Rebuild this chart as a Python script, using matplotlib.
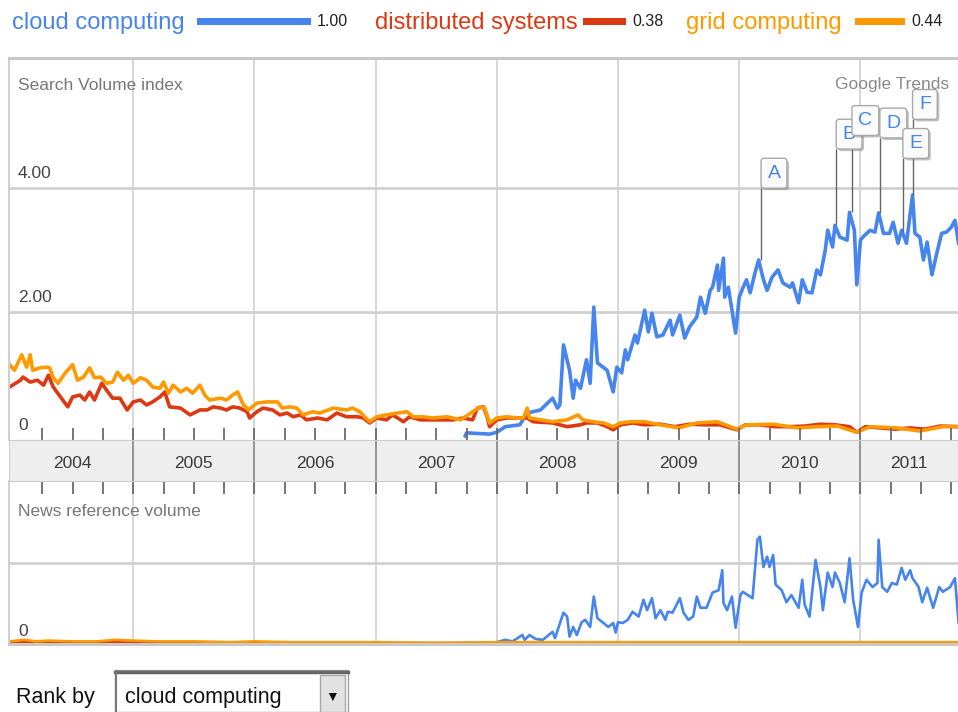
import matplotlib
matplotlib.use("Agg")
import matplotlib.pyplot as plt
import matplotlib.patheffects as pe
from matplotlib.patches import Rectangle
from matplotlib.transforms import offset_copy

plt.rcParams['font.family'] = ['Liberation Sans', 'DejaVu Sans']

W, H = 958, 712
BLUE, RED, ORANGE = '#4684ee', '#dc3912', '#ff9900'

# ---- data -------------------------------------------------------------
terms = ['cloud computing', 'distributed systems', 'grid computing']
term_avg = [1.00, 0.38, 0.44]
term_colors = [BLUE, RED, ORANGE]
years = list(range(2004, 2012))

# search volume index
cloud_t = [2007.74, 2007.75, 2007.94, 2008.00, 2008.07, 2008.19, 2008.25, 2008.36, 2008.46, 2008.50,
           2008.52, 2008.55, 2008.60, 2008.63, 2008.65, 2008.69, 2008.74, 2008.77, 2008.80, 2008.83,
           2008.91, 2008.96, 2008.99, 2009.03, 2009.06, 2009.08, 2009.14, 2009.16, 2009.22, 2009.25,
           2009.28, 2009.32, 2009.37, 2009.43, 2009.45, 2009.51, 2009.55, 2009.59, 2009.65, 2009.68,
           2009.72, 2009.76, 2009.78, 2009.82, 2009.83, 2009.87, 2009.88, 2009.91, 2009.94, 2009.97,
           2010.00, 2010.03, 2010.06, 2010.09, 2010.13, 2010.16, 2010.20, 2010.23, 2010.27, 2010.32,
           2010.36, 2010.42, 2010.44, 2010.49, 2010.52, 2010.56, 2010.60, 2010.64, 2010.67, 2010.71,
           2010.73, 2010.77, 2010.79, 2010.83, 2010.89, 2010.91, 2010.95, 2010.97, 2011.00, 2011.02,
           2011.08, 2011.12, 2011.15, 2011.19, 2011.24, 2011.27, 2011.31, 2011.34, 2011.38, 2011.43,
           2011.45, 2011.49, 2011.52, 2011.55, 2011.59, 2011.63, 2011.67, 2011.71, 2011.75, 2011.78,
           2011.81]
cloud_v = [0.00, 0.05, 0.03, 0.06, 0.15, 0.18, 0.37, 0.42, 0.61, 0.45,
           0.50, 1.47, 1.06, 0.61, 0.90, 0.77, 1.23, 0.85, 2.08, 1.18,
           1.06, 0.71, 1.11, 1.02, 1.39, 1.23, 1.63, 1.50, 2.03, 1.68,
           1.98, 1.60, 1.63, 1.87, 1.63, 1.95, 1.58, 1.76, 1.92, 2.24,
           1.98, 2.35, 2.40, 2.76, 2.35, 2.87, 2.24, 2.40, 2.03, 1.66,
           2.24, 2.39, 2.52, 2.31, 2.63, 2.84, 2.52, 2.35, 2.56, 2.68,
           2.47, 2.40, 2.47, 2.15, 2.52, 2.32, 2.31, 2.68, 2.60, 3.00,
           3.32, 3.05, 3.40, 3.21, 3.16, 3.61, 3.32, 2.44, 3.16, 3.21,
           3.32, 3.29, 3.60, 3.27, 3.27, 3.45, 3.11, 3.32, 3.11, 3.89,
           3.27, 3.21, 2.84, 3.13, 2.60, 2.95, 3.27, 3.29, 3.37, 3.48,
           3.11]

dist_t = [2003.98, 2004.07, 2004.09, 2004.15, 2004.21, 2004.26, 2004.30, 2004.34, 2004.40, 2004.46,
          2004.50, 2004.56, 2004.60, 2004.64, 2004.68, 2004.74, 2004.78, 2004.83, 2004.89, 2004.95,
          2005.00, 2005.06, 2005.11, 2005.16, 2005.22, 2005.26, 2005.30, 2005.39, 2005.47, 2005.55,
          2005.61, 2005.66, 2005.72, 2005.77, 2005.82, 2005.88, 2005.94, 2005.96, 2006.02, 2006.07,
          2006.15, 2006.21, 2006.27, 2006.32, 2006.38, 2006.43, 2006.52, 2006.60, 2006.68, 2006.76,
          2006.85, 2006.90, 2006.95, 2007.01, 2007.09, 2007.14, 2007.23, 2007.28, 2007.37, 2007.45,
          2007.56, 2007.64, 2007.72, 2007.80, 2007.84, 2007.89, 2007.92, 2007.94, 2008.00, 2008.08,
          2008.19, 2008.25, 2008.30, 2008.46, 2008.58, 2008.69, 2008.74, 2008.83, 2008.91, 2008.96,
          2009.02, 2009.12, 2009.22, 2009.35, 2009.47, 2009.59, 2009.72, 2009.84, 2009.98, 2010.05,
          2010.17, 2010.30, 2010.42, 2010.54, 2010.67, 2010.79, 2010.91, 2010.97, 2011.04, 2011.16,
          2011.29, 2011.41, 2011.53, 2011.66, 2011.81]
dist_v = [0.79, 0.90, 0.95, 0.87, 0.90, 0.82, 0.98, 0.79, 0.63, 0.47,
          0.63, 0.66, 0.58, 0.71, 0.58, 0.85, 0.74, 0.61, 0.61, 0.42,
          0.55, 0.58, 0.50, 0.55, 0.63, 0.71, 0.47, 0.45, 0.34, 0.42,
          0.42, 0.47, 0.45, 0.42, 0.47, 0.45, 0.39, 0.29, 0.39, 0.45,
          0.42, 0.34, 0.37, 0.31, 0.34, 0.26, 0.29, 0.26, 0.37, 0.31,
          0.31, 0.29, 0.21, 0.29, 0.26, 0.34, 0.23, 0.31, 0.26, 0.26,
          0.26, 0.26, 0.29, 0.26, 0.45, 0.47, 0.31, 0.15, 0.26, 0.29,
          0.29, 0.29, 0.23, 0.21, 0.15, 0.18, 0.21, 0.21, 0.15, 0.10,
          0.18, 0.21, 0.18, 0.19, 0.15, 0.19, 0.18, 0.18, 0.10, 0.18,
          0.18, 0.15, 0.15, 0.16, 0.19, 0.18, 0.15, 0.06, 0.15, 0.13,
          0.11, 0.13, 0.11, 0.16, 0.15]

grid_t = [2003.98, 2004.02, 2004.08, 2004.12, 2004.15, 2004.17, 2004.23, 2004.29, 2004.31, 2004.34,
          2004.38, 2004.44, 2004.50, 2004.54, 2004.59, 2004.64, 2004.68, 2004.73, 2004.78, 2004.83,
          2004.87, 2004.92, 2004.96, 2005.00, 2005.06, 2005.11, 2005.16, 2005.22, 2005.25, 2005.29,
          2005.33, 2005.39, 2005.44, 2005.49, 2005.55, 2005.59, 2005.63, 2005.72, 2005.77, 2005.82,
          2005.86, 2005.91, 2005.95, 2006.02, 2006.10, 2006.19, 2006.23, 2006.29, 2006.35, 2006.40,
          2006.48, 2006.54, 2006.65, 2006.76, 2006.81, 2006.87, 2006.95, 2007.01, 2007.09, 2007.18,
          2007.26, 2007.31, 2007.39, 2007.47, 2007.59, 2007.70, 2007.74, 2007.86, 2007.90, 2007.94,
          2008.00, 2008.08, 2008.17, 2008.22, 2008.25, 2008.27, 2008.36, 2008.46, 2008.58, 2008.67,
          2008.71, 2008.79, 2008.88, 2008.96, 2009.02, 2009.10, 2009.22, 2009.35, 2009.50, 2009.65,
          2009.82, 2009.98, 2010.06, 2010.28, 2010.48, 2010.64, 2010.81, 2010.97, 2011.08, 2011.30,
          2011.49, 2011.68, 2011.81]
grid_v = [1.15, 1.06, 1.31, 1.11, 1.31, 1.06, 1.10, 1.11, 1.10, 0.94,
          0.85, 1.02, 1.15, 0.90, 0.95, 1.10, 0.94, 0.95, 0.85, 0.87,
          1.03, 0.90, 0.98, 0.85, 0.94, 0.90, 0.79, 0.77, 0.87, 0.69,
          0.82, 0.71, 0.77, 0.69, 0.82, 0.66, 0.58, 0.61, 0.58, 0.66,
          0.71, 0.50, 0.42, 0.53, 0.55, 0.55, 0.45, 0.47, 0.45, 0.34,
          0.39, 0.37, 0.45, 0.42, 0.45, 0.39, 0.23, 0.31, 0.34, 0.37,
          0.39, 0.31, 0.31, 0.29, 0.31, 0.26, 0.31, 0.47, 0.45, 0.21,
          0.29, 0.31, 0.29, 0.29, 0.45, 0.29, 0.26, 0.23, 0.26, 0.34,
          0.26, 0.23, 0.21, 0.15, 0.21, 0.23, 0.23, 0.18, 0.13, 0.21,
          0.23, 0.11, 0.18, 0.19, 0.13, 0.15, 0.16, 0.06, 0.15, 0.13,
          0.08, 0.15, 0.15]

# news reference volume
news_cloud_t = [2007.74, 2007.92, 2008.00, 2008.07, 2008.13, 2008.21, 2008.23, 2008.27, 2008.32, 2008.38,
                2008.46, 2008.48, 2008.55, 2008.58, 2008.60, 2008.63, 2008.66, 2008.70, 2008.73, 2008.77,
                2008.80, 2008.83, 2008.88, 2008.92, 2008.96, 2008.98, 2009.00, 2009.04, 2009.08, 2009.12,
                2009.17, 2009.21, 2009.24, 2009.28, 2009.31, 2009.35, 2009.39, 2009.41, 2009.45, 2009.51,
                2009.54, 2009.58, 2009.62, 2009.65, 2009.68, 2009.73, 2009.78, 2009.83, 2009.86, 2009.87,
                2009.90, 2009.94, 2009.97, 2010.01, 2010.03, 2010.09, 2010.11, 2010.15, 2010.17, 2010.20,
                2010.23, 2010.25, 2010.28, 2010.30, 2010.35, 2010.39, 2010.43, 2010.49, 2010.52, 2010.54,
                2010.58, 2010.63, 2010.67, 2010.69, 2010.73, 2010.77, 2010.79, 2010.83, 2010.87, 2010.91,
                2010.94, 2010.98, 2011.01, 2011.05, 2011.10, 2011.14, 2011.15, 2011.18, 2011.22, 2011.26,
                2011.30, 2011.34, 2011.37, 2011.41, 2011.43, 2011.48, 2011.51, 2011.55, 2011.60, 2011.65,
                2011.68, 2011.74, 2011.78, 2011.81]
news_cloud_v = [0.00, 0.00, 0.01, 0.04, 0.02, 0.10, 0.04, 0.10, 0.05, 0.04,
                0.14, 0.06, 0.38, 0.33, 0.08, 0.20, 0.10, 0.26, 0.29, 0.20,
                0.58, 0.31, 0.25, 0.20, 0.25, 0.13, 0.26, 0.25, 0.29, 0.39,
                0.33, 0.54, 0.41, 0.56, 0.31, 0.41, 0.29, 0.39, 0.38, 0.56,
                0.38, 0.29, 0.33, 0.58, 0.44, 0.44, 0.63, 0.66, 0.91, 0.50,
                0.41, 0.58, 0.19, 0.60, 0.64, 0.58, 0.56, 1.29, 1.33, 0.95,
                1.08, 0.95, 1.10, 0.73, 0.66, 0.51, 0.60, 0.44, 0.79, 0.48,
                0.33, 1.04, 0.70, 0.41, 0.88, 0.70, 0.88, 0.75, 0.51, 1.06,
                0.54, 0.20, 0.63, 0.79, 0.70, 0.75, 1.29, 0.70, 0.64, 0.75,
                0.73, 0.94, 0.79, 0.91, 0.81, 0.70, 0.51, 0.69, 0.44, 0.70,
                0.64, 0.70, 0.81, 0.25]

news_grid_t = [2003.98, 2004.10, 2004.20, 2004.30, 2004.50, 2004.70, 2004.85, 2005.00, 2005.20, 2005.50,
               2005.80, 2006.00, 2006.30, 2006.60, 2007.00, 2007.50, 2008.00, 2008.50, 2009.00, 2009.50,
               2010.00, 2010.50, 2011.00, 2011.50, 2011.81]
news_grid_v = [0.02, 0.04, 0.02, 0.03, 0.02, 0.02, 0.04, 0.03, 0.02, 0.02,
               0.01, 0.02, 0.01, 0.01, 0.01, 0.00, 0.01, 0.01, 0.01, 0.01,
               0.01, 0.01, 0.01, 0.01, 0.01]
news_dist_t = [2003.98, 2005.00, 2006.00, 2007.00, 2008.00, 2009.00, 2010.00, 2011.00, 2011.81]
news_dist_v = [0.01, 0.01, 0.00, 0.00, 0.00, 0.00, 0.00, 0.00, 0.00]

# news event markers on the search graph
ann_letters = ['A', 'B', 'C', 'D', 'E', 'F']
ann_t = [2010.18, 2010.80, 2010.93, 2011.16, 2011.35, 2011.43]
ann_v = [2.84, 3.40, 3.61, 3.60, 3.29, 3.89]
ann_box = [4.00, 4.63, 4.85, 4.81, 4.48, 5.11]   # where each flag sits

# ---- figure -----------------------------------------------------------
fig = plt.figure(figsize=(W / 100, H / 100), dpi=100)
fig.patch.set_facecolor('white')


def px_axes(x0, y0, x1, y1):
    return fig.add_axes([x0 / W, 1 - y1 / H, (x1 - x0) / W, (y1 - y0) / H])


def ftext(x, y, s, **kw):
    return fig.text(x / W, 1 - y / H, s, **kw)


XLIM = (2003.975, 2011.805)


def style_panel(ax, ylim, hlines):
    ax.set_xlim(XLIM)
    ax.set_ylim(ylim)
    ax.set_xticks([])
    ax.set_yticks([])
    for yr in years[1:]:
        ax.axvline(yr, color='#d4d4d4', lw=1.3, zorder=0)
    for y in hlines:
        ax.axhline(y, color='#d0d0d0', lw=2, zorder=0)
    ax.spines['right'].set_visible(False)
    ax.spines['left'].set_color('#d0d0d0')
    ax.spines['left'].set_linewidth(1.5)


ax_top = px_axes(9, 58, 958, 440)
style_panel(ax_top, (-0.065, 6.1), [2, 4])
ax_top.spines['top'].set_color('#c8c8c8')
ax_top.spines['top'].set_linewidth(2.2)
ax_top.spines['bottom'].set_color('#cccccc')

for t, v, c in [(cloud_t, cloud_v, BLUE), (dist_t, dist_v, RED), (grid_t, grid_v, ORANGE)]:
    ax_top.plot(t, v, color=c, lw=2.6, solid_joinstyle='round', zorder=2)

ax_top.text(835 / W, 1 - 85 / H, 'Google Trends', transform=fig.transFigure,
            fontsize=12.5, color='#8a8a8a', va='center', ha='left', zorder=1)

pad = 0.33
fs_flag = 14
flag_tr = offset_copy(ax_top.transData, fig=fig, x=pad * fs_flag, y=pad * fs_flag, units='points')
for i, (lt, t, v, vb) in enumerate(zip(ann_letters, ann_t, ann_v, ann_box)):
    ax_top.plot([t, t], [v, vb], color='#666666', lw=1, zorder=4, solid_capstyle='butt')
    txt = ax_top.text(t, vb, lt, transform=flag_tr, ha='left', va='bottom',
                      fontsize=fs_flag, color=BLUE, zorder=5 + i,
                      bbox=dict(boxstyle=f'round,pad={pad},rounding_size=0.15',
                                fc='#fbfbfb', ec='#a8a8a8', lw=1))
    txt.get_bbox_patch().set_path_effects([
        pe.SimplePatchShadow(offset=(1.5, -1.5), shadow_rgbFace='#777777', alpha=0.45),
        pe.Normal()])

ax_bot = px_axes(9, 481, 958, 644)
style_panel(ax_bot, (-0.0125, 2.025), [1])
ax_bot.spines['top'].set_visible(False)
ax_bot.spines['bottom'].set_color('#c8c8c8')
ax_bot.spines['bottom'].set_linewidth(2.2)
for t, v, c in [(news_cloud_t, news_cloud_v, BLUE), (news_dist_t, news_dist_v, RED),
                (news_grid_t, news_grid_v, ORANGE)]:
    ax_bot.plot(t, v, color=c, lw=1.9, solid_joinstyle='round', zorder=2)

# year band between the two panels
ax_band = px_axes(9, 440, 958, 481)
ax_band.set_facecolor('#eeeeee')
ax_band.set_xlim(XLIM)
ax_band.set_ylim(0, 1)
ax_band.set_yticks([])
ax_band.set_xticks(years[1:])
ax_band.set_xticks([yr + q for yr in years for q in (0.25, 0.5, 0.75)], minor=True)
ax_band.tick_params(axis='x', which='both', direction='out', top=True, bottom=True,
                    length=9, width=1.3, color='#6a6a6a', labelbottom=False)
for yr in years[1:]:
    ax_band.axvline(yr, color='#8c8c8c', lw=1.3)
for yr in years:
    mid = (yr + min(yr + 1, XLIM[1])) / 2
    ax_band.text(mid, 0.42, str(yr), ha='center', va='center', fontsize=12.5, color='#3a3a3a')
for s in ['top', 'bottom']:
    ax_band.spines[s].set_color('#cccccc')
ax_band.spines['left'].set_color('#d0d0d0')
ax_band.spines['right'].set_visible(False)

# axis texts
ftext(18, 85, 'Search Volume index', fontsize=12.5, color='#777777', va='center')
for y, s in [(173, '4.00'), (297, '2.00'), (425, '0')]:
    ftext(18, y, s, fontsize=12.5, color='#444444', va='center')
ftext(18, 512, 'News reference volume', fontsize=12.5, color='#777777', va='center')
ftext(18, 632, '0', fontsize=12.5, color='#444444', va='center')

# legend row
text_x = [12, 375, 686]
bar_x = [197, 583, 855]
for name, avg, c, tx, bx in zip(terms, term_avg, term_colors, text_x, bar_x):
    ftext(tx, 23, name, fontsize=17, color=c, va='center')
    blen = avg * 114
    fig.add_artist(Rectangle((bx / W, 1 - 25 / H), blen / W, 7 / H,
                             transform=fig.transFigure, fc=c, ec='none'))
    ftext(bx + blen + 6, 21, f'{avg:.2f}', fontsize=11.5, color='#222222', va='center')

# "Rank by" dropdown
ftext(16, 697, 'Rank by', fontsize=15.5, color='#111111', va='center')
fig.add_artist(Rectangle((115 / W, 0), (348 - 115) / W, 1 - 670 / H, transform=fig.transFigure,
                         fc='white', ec='#a0a0a0', lw=1))
fig.add_artist(plt.Line2D([115 / W, 348 / W], [1 - 671.5 / H, 1 - 671.5 / H],
                          transform=fig.transFigure, color='#666666', lw=2.5))
fig.add_artist(plt.Line2D([116 / W, 116 / W], [0, 1 - 671 / H],
                          transform=fig.transFigure, color='#777777', lw=1.5))
fig.add_artist(Rectangle((320 / W, 0), 25 / W, 1 - 675 / H, transform=fig.transFigure,
                         fc='#e2e2e2', ec='#a8a8a8', lw=1))
ftext(332.5, 697, '\u25bc', fontsize=10, color='#111111', va='center', ha='center')
ftext(125, 697, 'cloud computing', fontsize=15.5, color='#111111', va='center')

fig.savefig('out.png', dpi=100, facecolor='white')
